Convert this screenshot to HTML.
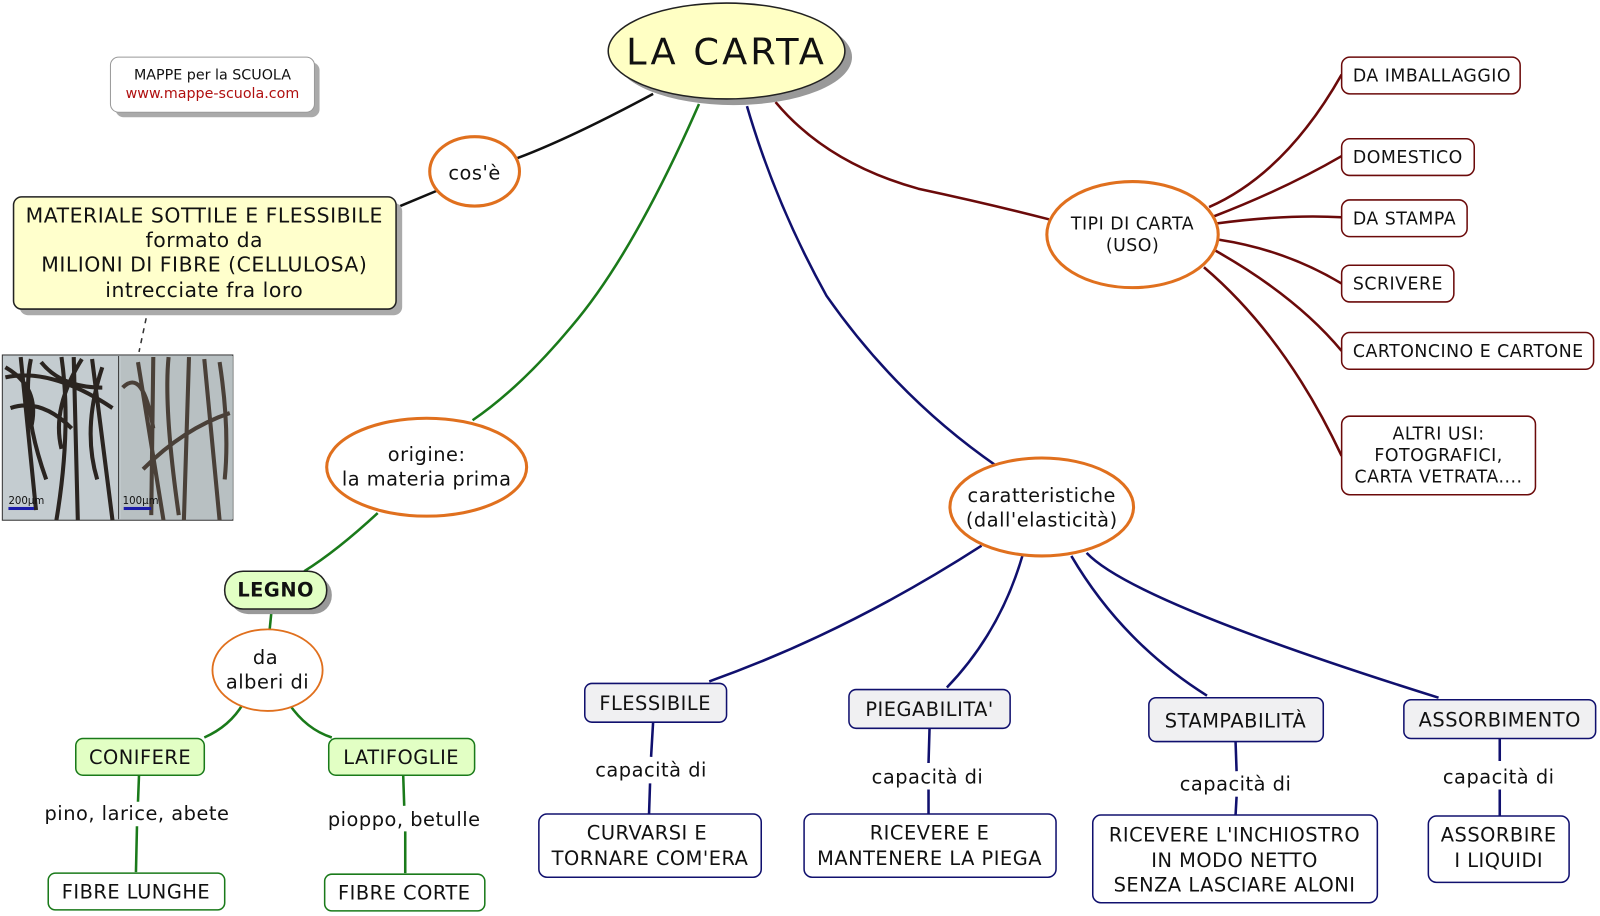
<!DOCTYPE html>
<html><head><meta charset="utf-8"><style>
html,body{margin:0;padding:0;background:#fff;}
svg{display:block;}
text{font-family:"DejaVu Sans","Liberation Sans",sans-serif;fill:#111;letter-spacing:0.5px;}
</style></head><body>
<svg width="1600" height="916" viewBox="0 0 1568 898" xmlns="http://www.w3.org/2000/svg">
<g fill="none" stroke-width="2.5">
<path d="M640,92 Q560,135 507,155" stroke="#111"/>
<path d="M428,187 L392,202" stroke="#111"/>
<path d="M685,102 Q620,250 560,320 Q510,380 463,412" stroke="#1a7a1a"/>
<path d="M370,503 Q330,540 298,560" stroke="#1a7a1a"/>
<path d="M266,598 L264,618" stroke="#1a7a1a"/>
<path d="M238,690 Q225,712 200,723" stroke="#1a7a1a"/>
<path d="M283,690 Q300,715 325,723" stroke="#1a7a1a"/>
<path d="M136,760 L135,786 M134,810 L133,855" stroke="#1a7a1a"/>
<path d="M395,760 L396,790 M397,815 L397,856" stroke="#1a7a1a"/>
<path d="M732,104 Q760,200 810,290 Q880,390 977,457" stroke="#10106e"/>
<path d="M962,535 Q830,620 695,668" stroke="#10106e"/>
<path d="M1002,545 Q980,620 928,674" stroke="#10106e"/>
<path d="M1050,545 Q1100,630 1183,682" stroke="#10106e"/>
<path d="M1065,542 Q1110,590 1410,684" stroke="#10106e"/>
<path d="M640,708 L638,742 M637,768 L636,798" stroke="#10106e"/>
<path d="M911,714 L910,748 M910,774 L910,798" stroke="#10106e"/>
<path d="M1211,727 L1212,756 M1212,781 L1211,799" stroke="#10106e"/>
<path d="M1470,724 L1470,746 M1470,774 L1470,800" stroke="#10106e"/>
<path d="M760,100 Q810,160 900,185 Q970,200 1028,215" stroke="#6b0a0a"/>
<path d="M1185,203 Q1260,170 1315,73" stroke="#6b0a0a"/>
<path d="M1190,212 Q1260,185 1315,153" stroke="#6b0a0a"/>
<path d="M1193,219 Q1260,210 1315,213" stroke="#6b0a0a"/>
<path d="M1195,235 Q1260,245 1315,278" stroke="#6b0a0a"/>
<path d="M1190,245 Q1270,290 1315,344" stroke="#6b0a0a"/>
<path d="M1180,262 Q1260,330 1315,447" stroke="#6b0a0a"/>
</g>
<path d="M143,312 L136,345" stroke="#333" stroke-width="1.5" stroke-dasharray="5,5"/>

<ellipse cx="719" cy="56" rx="116" ry="47" fill="#999"/>
<ellipse cx="712" cy="50" rx="116" ry="47" fill="#ffffc4" stroke="#222" stroke-width="1.5"/>
<text x="712" y="63" font-size="36" text-anchor="middle" style="letter-spacing:3px">LA CARTA</text>

<rect x="113" y="61" width="200" height="54" rx="8" fill="#aaa"/>
<rect x="108" y="56" width="200" height="54" rx="8" fill="#fff" stroke="#999"/>
<text x="208" y="78" font-size="14" text-anchor="middle" style="letter-spacing:0">MAPPE per la SCUOLA</text>
<text x="208" y="96" font-size="14" text-anchor="middle" style="fill:#b01010;letter-spacing:0">www.mappe-scuola.com</text>

<ellipse cx="465" cy="168" rx="44" ry="34" fill="#fff" stroke="#e0701e" stroke-width="3"/>
<text x="465" y="176" font-size="19" text-anchor="middle">cos'è</text>

<rect x="19" y="199" width="375" height="110" rx="8" fill="#aaa"/>
<rect x="13" y="193" width="375" height="110" rx="8" fill="#ffffcc" stroke="#222" stroke-width="1.5"/>
<g font-size="20" text-anchor="middle">
<text x="200" y="218">MATERIALE SOTTILE E FLESSIBILE</text>
<text x="200" y="242">formato da</text>
<text x="200" y="266">MILIONI DI FIBRE (CELLULOSA)</text>
<text x="200" y="291">intrecciate fra loro</text>
</g>

<rect x="2" y="348" width="226" height="162" fill="#c4ccd0" stroke="#333"/>
<rect x="118" y="349" width="110" height="160" fill="#b8c0c2"/>
<g stroke="#2a2420" fill="none" stroke-width="4">
<path d="M5,360 Q40,380 30,420 M20,350 L35,500 M60,350 Q70,420 55,510 M72,350 L76,510 M90,352 Q100,430 110,510 M10,400 Q40,390 70,420 M100,360 Q80,420 95,470 M40,355 Q60,380 100,380 M5,370 Q50,360 110,400 M30,352 Q20,400 45,470 M80,352 Q50,400 60,440"/>
<path d="M135,355 L160,510 M150,350 L148,505 M165,350 Q160,400 175,505 M140,460 Q180,420 225,405 M200,352 L215,510 M120,380 Q140,360 150,420 M185,350 L180,510 M215,355 Q225,420 220,470" stroke="#4a4038"/>
</g>
<line x1="116" y1="349" x2="116" y2="509" stroke="#333"/>
<text x="8" y="494" font-size="10" style="letter-spacing:0">200µm</text><rect x="8" y="497" width="25" height="3" fill="#1a1aaa"/>
<text x="120" y="494" font-size="10" style="letter-spacing:0">100µm</text><rect x="121" y="497" width="27" height="3" fill="#1a1aaa"/>

<ellipse cx="418" cy="458" rx="98" ry="48" fill="#fff" stroke="#e0701e" stroke-width="3"/>
<text x="418" y="452" font-size="19" text-anchor="middle">origine:</text>
<text x="418" y="476" font-size="19" text-anchor="middle">la materia prima</text>

<rect x="225" y="565" width="100" height="37" rx="18" fill="#999"/>
<rect x="220" y="560" width="100" height="37" rx="18" fill="#e2ffc4" stroke="#222" stroke-width="1.5"/>
<text x="270" y="585" font-size="19" font-weight="bold" text-anchor="middle">LEGNO</text>

<ellipse cx="262" cy="657" rx="54" ry="40" fill="#fff" stroke="#e0701e" stroke-width="1.8"/>
<text x="260" y="651" font-size="19" text-anchor="middle">da</text>
<text x="262" y="675" font-size="19" text-anchor="middle">alberi di</text>

<g stroke="#1a7a1a" stroke-width="1.5">
<rect x="74" y="724" width="126" height="36" rx="7" fill="#e2ffc4"/>
<rect x="322" y="724" width="143" height="36" rx="7" fill="#e2ffc4"/>
<rect x="47" y="856" width="173" height="36" rx="7" fill="#fff"/>
<rect x="318" y="857" width="157" height="36" rx="7" fill="#fff"/>
</g>
<g font-size="19" text-anchor="middle">
<text x="137" y="749">CONIFERE</text>
<text x="393" y="749">LATIFOGLIE</text>
<text x="134" y="804">pino, larice, abete</text>
<text x="396" y="810">pioppo, betulle</text>
<text x="133" y="881">FIBRE LUNGHE</text>
<text x="396" y="882">FIBRE CORTE</text>
</g>

<ellipse cx="1021" cy="497" rx="90" ry="48" fill="#fff" stroke="#e0701e" stroke-width="3"/>
<text x="1021" y="492" font-size="19" text-anchor="middle">caratteristiche</text>
<text x="1021" y="516" font-size="19" text-anchor="middle">(dall'elasticità)</text>

<g stroke="#10106e" stroke-width="1.5">
<rect x="573" y="670" width="139" height="38" rx="7" fill="#f0f0f2"/>
<rect x="832" y="676" width="158" height="38" rx="7" fill="#f0f0f2"/>
<rect x="1126" y="684" width="171" height="43" rx="7" fill="#f0f0f2"/>
<rect x="1376" y="686" width="188" height="38" rx="7" fill="#f0f0f2"/>
<rect x="528" y="798" width="218" height="62" rx="8" fill="#fff"/>
<rect x="788" y="798" width="247" height="62" rx="8" fill="#fff"/>
<rect x="1071" y="799" width="279" height="86" rx="8" fill="#fff"/>
<rect x="1400" y="800" width="138" height="65" rx="8" fill="#fff"/>
</g>
<g font-size="19" text-anchor="middle">
<text x="642" y="696">FLESSIBILE</text>
<text x="911" y="702">PIEGABILITA'</text>
<text x="1211" y="713">STAMPABILITÀ</text>
<text x="1470" y="712">ASSORBIMENTO</text>
<text x="638" y="761">capacità di</text>
<text x="909" y="768">capacità di</text>
<text x="1211" y="775">capacità di</text>
<text x="1469" y="768">capacità di</text>
<text x="634" y="823">CURVARSI E</text>
<text x="637" y="848">TORNARE COM'ERA</text>
<text x="911" y="823">RICEVERE E</text>
<text x="911" y="848">MANTENERE LA PIEGA</text>
<text x="1210" y="825">RICEVERE L'INCHIOSTRO</text>
<text x="1210" y="850">IN MODO NETTO</text>
<text x="1210" y="874">SENZA LASCIARE ALONI</text>
<text x="1469" y="825">ASSORBIRE</text>
<text x="1469" y="850">I LIQUIDI</text>
</g>

<ellipse cx="1110" cy="230" rx="84" ry="52" fill="#fff" stroke="#e0701e" stroke-width="3"/>
<text x="1110" y="225" font-size="17" text-anchor="middle">TIPI DI CARTA</text>
<text x="1110" y="246" font-size="17" text-anchor="middle">(USO)</text>
<g stroke="#6b0a0a" stroke-width="1.5" fill="#fff">
<rect x="1315" y="56" width="175" height="36" rx="8"/>
<rect x="1315" y="136" width="130" height="36" rx="8"/>
<rect x="1315" y="196" width="123" height="36" rx="8"/>
<rect x="1315" y="260" width="110" height="36" rx="8"/>
<rect x="1315" y="326" width="247" height="36" rx="8"/>
<rect x="1315" y="408" width="190" height="77" rx="8"/>
</g>
<g font-size="17">
<text x="1326" y="80">DA IMBALLAGGIO</text>
<text x="1326" y="160">DOMESTICO</text>
<text x="1326" y="220">DA STAMPA</text>
<text x="1326" y="284">SCRIVERE</text>
<text x="1326" y="350">CARTONCINO E CARTONE</text>
<text x="1410" y="431" text-anchor="middle">ALTRI USI:</text>
<text x="1410" y="452" text-anchor="middle">FOTOGRAFICI,</text>
<text x="1410" y="473" text-anchor="middle">CARTA VETRATA....</text>
</g>
</svg>
</body></html>
